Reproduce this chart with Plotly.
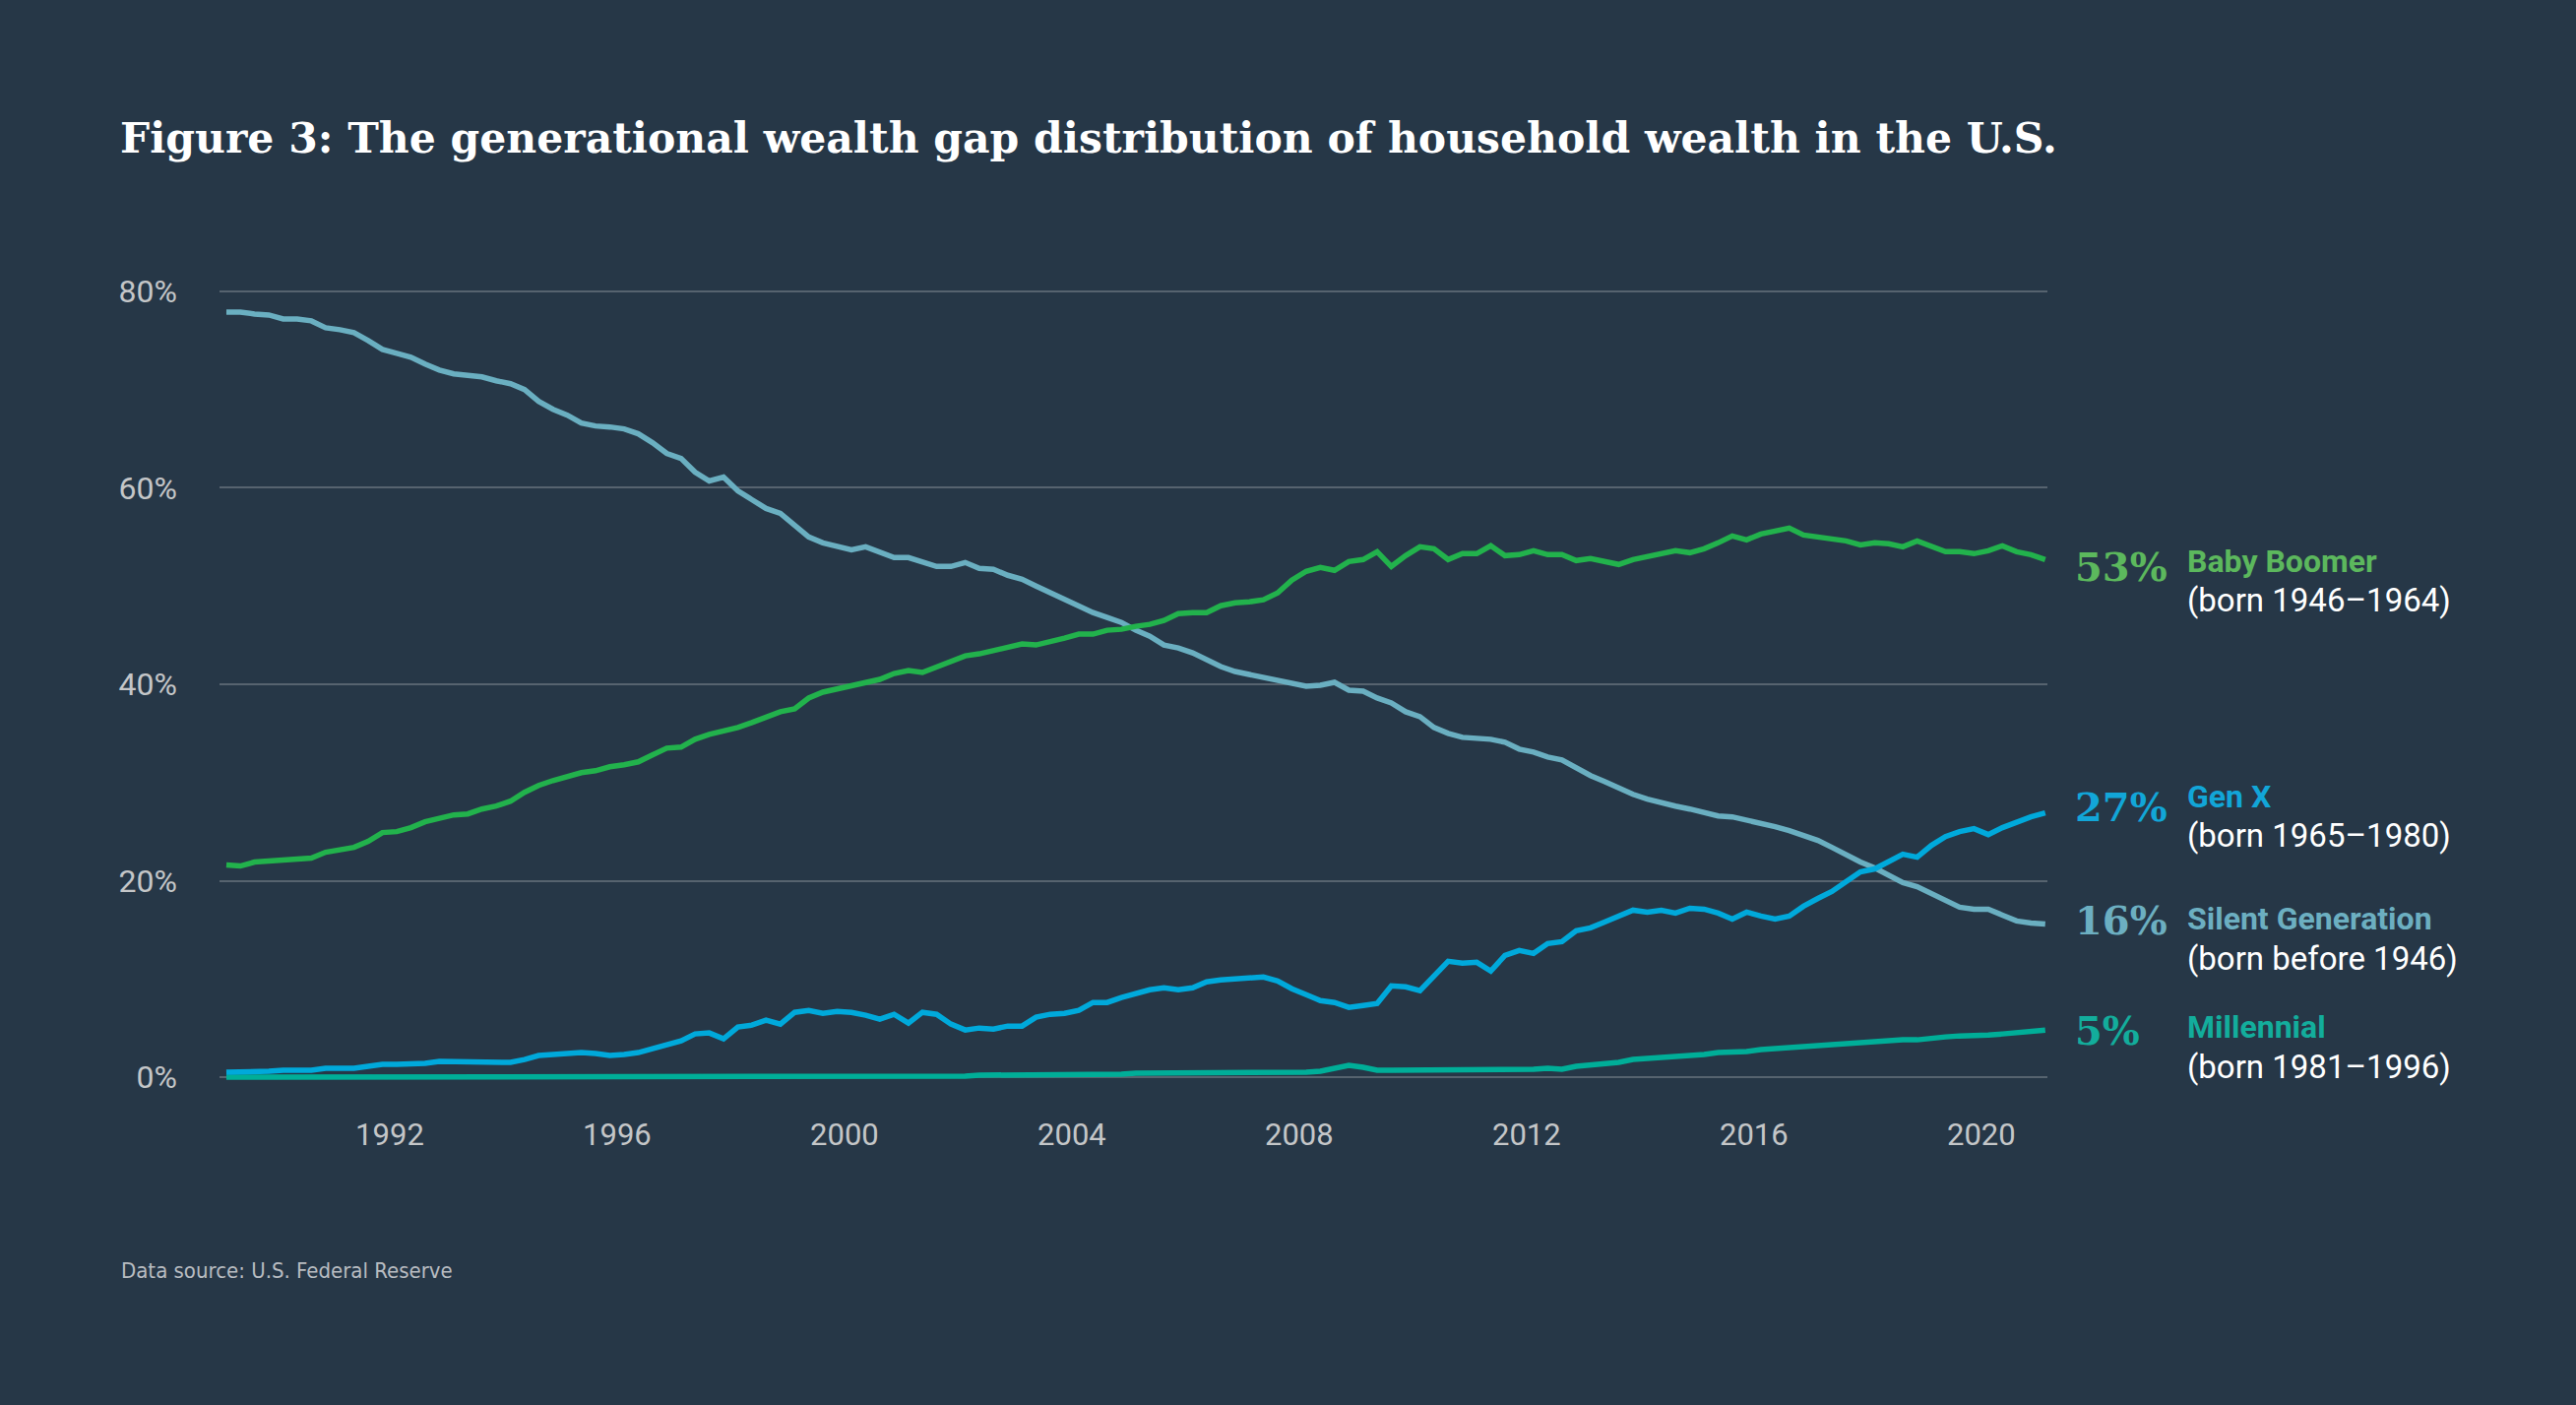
import pandas as pd
import plotly.graph_objects as go

# ---------------- data (share of U.S. household wealth, %) ----------------
quarters = pd.period_range("1989Q1", "2021Q1", freq="Q")

silent = [
    77.9, 77.9, 77.7, 77.6, 77.2, 77.2, 77.0, 76.3, 76.1, 75.8,
    75.0, 74.1, 73.7, 73.3, 72.6, 72.0, 71.6, 71.5, 71.3, 70.9,
    70.6, 70.0, 68.8, 68.0, 67.4, 66.6, 66.3, 66.2, 66.0, 65.5,
    64.6, 63.5, 63.0, 61.6, 60.7, 61.1, 59.7, 58.8, 57.9, 57.4,
    56.2, 55.0, 54.4, 54.1, 53.7, 54.0, 53.4, 52.9, 52.9, 52.4,
    52.0, 52.0, 52.4, 51.8, 51.7, 51.1, 50.7, 50.0, 49.3, 48.7,
    48.0, 47.3, 46.8, 46.3, 45.5, 44.9, 44.0, 43.7, 43.2, 42.5,
    41.8, 41.3, 41.0, 40.8, 40.5, 40.1, 39.8, 39.9, 40.2, 39.4,
    39.3, 38.6, 38.1, 37.2, 36.7, 35.6, 35.0, 34.6, 34.5, 34.4,
    34.1, 33.4, 33.1, 32.6, 32.3, 31.5, 30.7, 30.1, 29.4, 28.8,
    28.3, 27.9, 27.6, 27.3, 26.9, 26.6, 26.5, 26.2, 25.9, 25.5,
    25.1, 24.6, 24.1, 23.4, 22.6, 21.9, 21.3, 20.6, 19.8, 19.4,
    18.7, 18.0, 17.3, 17.1, 17.1, 16.5, 15.9, 15.7, 15.6,
]

boomer = [
    21.6, 21.5, 21.9, 22.0, 22.0, 22.1, 22.3, 22.9, 23.1, 23.4,
    24.0, 24.9, 25.0, 25.4, 26.0, 26.4, 26.7, 26.8, 27.3, 27.6,
    28.1, 29.0, 29.7, 30.2, 30.6, 31.0, 31.2, 31.6, 31.8, 32.1,
    32.8, 33.5, 33.6, 34.4, 34.9, 35.2, 35.6, 36.1, 36.6, 37.2,
    37.5, 38.6, 39.2, 39.5, 39.8, 40.2, 40.5, 41.1, 41.4, 41.2,
    41.8, 42.4, 42.9, 43.1, 43.4, 43.7, 44.1, 44.0, 44.3, 44.7,
    45.1, 45.1, 45.5, 45.6, 45.9, 46.1, 46.5, 47.2, 47.3, 47.3,
    48.0, 48.3, 48.4, 48.6, 49.3, 50.6, 51.5, 51.9, 51.6, 52.5,
    52.7, 53.5, 52.0, 53.1, 54.0, 53.8, 52.7, 53.3, 53.3, 54.1,
    53.1, 53.2, 53.6, 53.2, 53.2, 52.6, 52.8, 52.5, 52.2, 52.7,
    53.0, 53.2, 53.6, 53.4, 53.8, 54.4, 55.1, 54.7, 55.3, 55.6,
    55.9, 55.2, 55.0, 54.9, 54.6, 54.2, 54.4, 54.3, 54.0, 54.6,
    54.1, 53.5, 53.5, 53.3, 53.6, 54.1, 53.5, 53.2, 52.7,
]

genx = [
    0.5, 0.5, 0.6, 0.6, 0.7, 0.7, 0.7, 0.9, 0.9, 0.9,
    1.1, 1.3, 1.3, 1.3, 1.4, 1.6, 1.6, 1.6, 1.6, 1.5,
    1.5, 1.8, 2.2, 2.3, 2.4, 2.5, 2.4, 2.2, 2.3, 2.5,
    2.9, 3.3, 3.7, 4.4, 4.5, 3.9, 5.1, 5.3, 5.8, 5.4,
    6.6, 6.8, 6.5, 6.7, 6.6, 6.3, 5.9, 6.4, 5.5, 6.6,
    6.4, 5.4, 4.8, 5.0, 4.9, 5.2, 5.2, 6.1, 6.4, 6.5,
    6.8, 7.6, 7.6, 8.1, 8.5, 8.9, 9.1, 8.9, 9.1, 9.7,
    9.9, 10.0, 10.1, 10.2, 9.8, 9.0, 8.4, 7.8, 7.6, 7.1,
    7.3, 7.5, 9.3, 9.2, 8.8, 10.2, 11.8, 11.6, 11.7, 10.8,
    12.4, 12.9, 12.6, 13.6, 13.8, 14.9, 15.2, 15.8, 16.4, 17.0,
    16.8, 17.0, 16.7, 17.2, 17.1, 16.7, 16.1, 16.8, 16.4, 16.1,
    16.4, 17.4, 18.2, 18.9, 19.9, 20.9, 21.2, 22.0, 22.7, 22.4,
    23.6, 24.5, 25.0, 25.3, 24.7, 25.4, 26.0, 26.5, 26.9,
]

millennial = [
    0.0, 0.0, 0.0, 0.0, 0.0, 0.0, 0.0, 0.0, 0.0, 0.0,
    0.0, 0.0, 0.0, 0.0, 0.0, 0.0, 0.0, 0.0, 0.0, 0.0,
    0.0, 0.0, 0.0, 0.0, 0.0, 0.0, 0.0, 0.0, 0.0, 0.0,
    0.0, 0.0, 0.0, 0.0, 0.0, 0.0, 0.0, 0.0, 0.0, 0.0,
    0.0, 0.0, 0.0, 0.0, 0.0, 0.0, 0.0, 0.0, 0.0, 0.1,
    0.1, 0.1, 0.1, 0.2, 0.2, 0.2, 0.2, 0.2, 0.3, 0.3,
    0.3, 0.3, 0.3, 0.3, 0.4, 0.4, 0.4, 0.4, 0.4, 0.4,
    0.5, 0.5, 0.5, 0.5, 0.5, 0.4, 0.5, 0.6, 0.9, 1.2,
    1.0, 0.7, 0.7, 0.7, 0.8, 0.8, 0.8, 0.7, 0.7, 0.8,
    0.8, 0.8, 0.8, 0.9, 0.8, 1.1, 1.2, 1.4, 1.5, 1.8,
    1.9, 1.9, 2.1, 2.2, 2.3, 2.5, 2.5, 2.6, 2.8, 2.9,
    3.1, 3.2, 3.3, 3.4, 3.4, 3.6, 3.7, 3.7, 3.8, 3.8,
    4.0, 4.1, 4.2, 4.2, 4.3, 4.4, 4.5, 4.6, 4.8,
]

y_ticks = [0, 20, 40, 60, 80]
x_tick_years = ["1992", "1996", "2000", "2004", "2008", "2012", "2016", "2020"]

# ---------------- style ----------------
BG = "#263747"
GRID = "#56636f"
TICK = "#c4c6c8"
SANS = "Roboto, 'Open Sans', Arial, sans-serif"
SERIF = "'DejaVu Serif', 'Liberation Serif', serif"
NARROW = "'Liberation Sans Narrow', 'DejaVu Sans Condensed', Roboto, sans-serif"

x_dates = quarters.to_timestamp(how="start") + pd.Timedelta(days=45)

series = [
    # name, values, line colour, label colour, subtitle, (pct shift, name shift, born shift)
    ("Millennial", millennial, "#00ae98", "#13ad9c", "(born 1981–1996)", (0, 3, -37)),
    ("Silent Generation", silent, "#6aafc1", "#6cafc1", "(born before 1946)", (4, 5, -35)),
    ("Baby Boomer", boomer, "#22b24c", "#5cb85d", "(born 1946–1964)", (-7, -2, -41)),
    ("Gen X", genx, "#00a9db", "#12a6d8", "(born 1965–1980)", (6, 17, -23)),
]

fig = go.Figure()
annotations = []
for name, vals, lc, tc, born, (s_pct, s_name, s_born) in series:
    fig.add_trace(go.Scatter(
        x=x_dates, y=vals, mode="lines", name=name,
        line=dict(color=lc, width=5.5),
        hoverinfo="skip", showlegend=False,
    ))
    last = vals[-1]
    annotations.append(dict(
        x=1.014, xref="paper", y=last, yref="y", yshift=s_pct,
        text=f"<b>{round(last)}%</b>", showarrow=False,
        xanchor="left", yanchor="middle",
        font=dict(family=SERIF, size=40, color=tc),
    ))
    annotations.append(dict(
        x=1.0754, xref="paper", y=last, yref="y", yshift=s_name,
        text=f"<b>{name}</b>", showarrow=False,
        xanchor="left", yanchor="middle",
        font=dict(family=SANS, size=32, color=tc),
    ))
    annotations.append(dict(
        x=1.0754, xref="paper", y=last, yref="y", yshift=s_born,
        text=born, showarrow=False,
        xanchor="left", yanchor="middle",
        font=dict(family=SANS, size=33, color="#ffffff"),
    ))

annotations.append(dict(
    x=-0.0549, xref="paper", y=-0.2274, yref="paper",
    text="Data source: U.S. Federal Reserve",
    showarrow=False,
    xanchor="left", yanchor="middle",
    font=dict(family=NARROW, size=22, color="#b8bcc1"),
))

fig.update_layout(
    width=2617, height=1427,
    paper_bgcolor=BG, plot_bgcolor=BG,
    margin=dict(l=223, r=537, t=286, b=323, pad=0),
    title=dict(
        text="<b>Figure 3: The generational wealth gap distribution of household wealth in the U.S.</b>",
        x=122 / 2617, xref="container", xanchor="left",
        y=1 - 140 / 1427, yref="container", yanchor="middle",
        font=dict(family=SERIF, size=42.5, color="#ffffff"),
    ),
    annotations=annotations,
    xaxis=dict(
        type="date",
        range=["1989-01-02", "2021-03-01"],
        tickvals=[f"{y}-01-01" for y in x_tick_years],
        ticktext=x_tick_years,
        showgrid=False, zeroline=False, showline=False,
        ticks="", ticklabelstandoff=27,
        tickfont=dict(family=SANS, size=31, color=TICK),
    ),
    yaxis=dict(
        range=[-1, 81],
        tickvals=y_ticks,
        ticktext=[f"{v}%" for v in y_ticks],
        showgrid=True, gridcolor=GRID, gridwidth=1.5,
        zeroline=False, showline=False,
        ticks="", ticklabelstandoff=42,
        tickfont=dict(family=SANS, size=32, color=TICK),
    ),
    hovermode=False,
)

fig.write_html(
    "out.html",
    config={"displayModeBar": False},
    post_script="document.body.style.margin='0';document.body.style.overflow='hidden';"
                "document.body.style.background='" + BG + "';",
)
